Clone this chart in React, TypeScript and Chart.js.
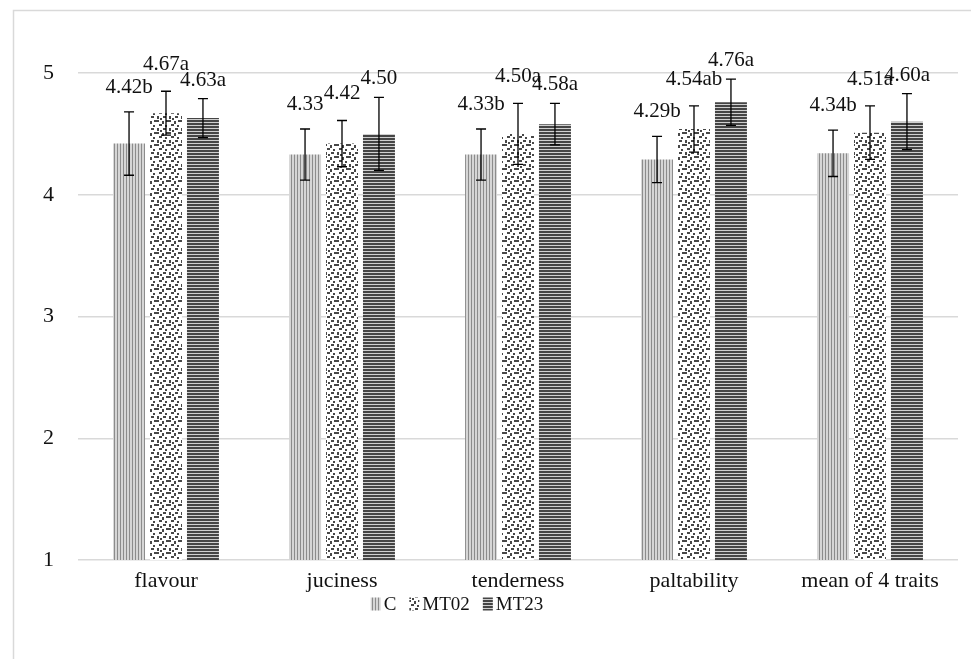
import React, { useEffect, useRef } from "react";
import { Chart, registerables } from "chart.js";

Chart.register(...registerables);

const categories = ["flavour", "juciness", "tenderness", "paltability", "mean of 4 traits"];
const seriesNames = ["C", "MT02", "MT23"];
const valuesC = [4.42, 4.33, 4.33, 4.29, 4.34];
const valuesMT02 = [4.67, 4.42, 4.5, 4.54, 4.51];
const valuesMT23 = [4.63, 4.5, 4.58, 4.76, 4.6];
const errorsC = [0.26, 0.21, 0.21, 0.19, 0.19];
const errorsMT02 = [0.18, 0.19, 0.25, 0.19, 0.22];
const errorsMT23 = [0.16, 0.3, 0.17, 0.19, 0.23];
const lettersC = ["b", "", "b", "b", "b"];
const lettersMT02 = ["a", "", "a", "ab", "a"];
const lettersMT23 = ["a", "", "a", "a", "a"];
const yTicks = [1, 2, 3, 4, 5];

const FONT = "'Liberation Serif', 'Times New Roman', serif";
const TEXT = "#111111";
const LABEL_GAP = [19, 21, 13];

function makePattern(kind: string): CanvasPattern | string {
  const c = document.createElement("canvas");
  const ctx = c.getContext("2d");
  if (!ctx) return "#888";
  if (kind === "vert") {
    c.width = 3; c.height = 1;
    ctx.fillStyle = "#d6d6d6"; ctx.fillRect(0, 0, 3, 1);
    ctx.fillStyle = "#8c8c8c"; ctx.fillRect(0, 0, 1, 1);
  } else if (kind === "horiz") {
    c.width = 1; c.height = 3;
    ctx.fillStyle = "#cfcfcf"; ctx.fillRect(0, 0, 1, 3);
    ctx.fillStyle = "#454545"; ctx.fillRect(0, 0, 1, 2);
  } else {
    c.width = 12; c.height = 12;
    ctx.fillStyle = "#ffffff"; ctx.fillRect(0, 0, 12, 12);
    ctx.fillStyle = "#474747";
    const sq = [
      [0, 0, 3, 2], [6, 1, 2, 3], [3, 4, 3, 2], [9, 5, 2, 2],
      [1, 8, 2, 3], [7, 8, 3, 2], [10, 0, 2, 2], [4, 10, 2, 2],
    ];
    for (const [x, y, w, h] of sq) ctx.fillRect(x, y, w, h);
  }
  const p = ctx.createPattern(c, "repeat");
  return p || "#888";
}

export default function App() {
  const ref = useRef<HTMLCanvasElement>(null);
  useEffect(() => {
    if (!ref.current) return;
    const errs = [errorsC, errorsMT02, errorsMT23];
    const letters = [lettersC, lettersMT02, lettersMT23];

    const framePlugin = {
      id: "frame",
      beforeDraw(chart: any) {
        const ctx = chart.ctx;
        ctx.save();
        ctx.fillStyle = "#ffffff";
        ctx.fillRect(0, 0, chart.width, chart.height);
        ctx.strokeStyle = "#d9d9d9";
        ctx.lineWidth = 1.5;
        ctx.strokeRect(13.5, 10.5, chart.width + 50, chart.height + 50);
        ctx.restore();
      },
    };

    const errorPlugin = {
      id: "errbars",
      afterDatasetsDraw(chart: any) {
        const ctx = chart.ctx;
        const ys = chart.scales.y;
        ctx.save();
        chart.data.datasets.forEach((ds: any, di: number) => {
          const meta = chart.getDatasetMeta(di);
          meta.data.forEach((bar: any, i: number) => {
            const v = ds.data[i];
            const e = errs[di][i];
            const top = ys.getPixelForValue(v + e);
            const bot = ys.getPixelForValue(v - e);
            const x = bar.x;
            ctx.strokeStyle = "#000000";
            ctx.lineWidth = 1.3;
            ctx.beginPath();
            ctx.moveTo(x, top); ctx.lineTo(x, bot);
            ctx.moveTo(x - 5, top); ctx.lineTo(x + 5, top);
            ctx.moveTo(x - 5, bot); ctx.lineTo(x + 5, bot);
            ctx.stroke();
            ctx.fillStyle = TEXT;
            ctx.font = `21px ${FONT}`;
            ctx.textAlign = "center";
            ctx.textBaseline = "alphabetic";
            ctx.fillText(v.toFixed(2) + letters[di][i], x, top - LABEL_GAP[di]);
          });
        });
        ctx.restore();
      },
    };

    const legendPlugin = {
      id: "customLegend",
      afterDraw(chart: any) {
        const ctx = chart.ctx;
        ctx.save();
        ctx.font = `19px ${FONT}`;
        const boxW = 10, boxH = 13, gapText = 3, gapItem = 13;
        const items = chart.data.datasets.map((ds: any) => ({
          label: ds.label,
          fill: ds.backgroundColor,
          w: ctx.measureText(ds.label).width,
        }));
        let total = 0;
        items.forEach((it: any, i: number) => {
          total += boxW + gapText + it.w + (i < items.length - 1 ? gapItem : 0);
        });
        const cx = 457;
        const cy = 604;
        let x = cx - total / 2;
        items.forEach((it: any) => {
          ctx.fillStyle = it.fill;
          ctx.fillRect(x, cy - boxH / 2, boxW, boxH);
          x += boxW + gapText;
          ctx.fillStyle = TEXT;
          ctx.textAlign = "left";
          ctx.textBaseline = "middle";
          ctx.fillText(it.label, x, cy + 1);
          x += it.w + gapItem;
        });
        ctx.restore();
      },
    };

    const chart = new Chart(ref.current, {
      type: "bar",
      data: {
        labels: categories,
        datasets: [
          { label: seriesNames[0], data: valuesC, backgroundColor: makePattern("vert") as any },
          { label: seriesNames[1], data: valuesMT02, backgroundColor: makePattern("dots") as any },
          { label: seriesNames[2], data: valuesMT23, backgroundColor: makePattern("horiz") as any },
        ],
      },
      options: {
        animation: false,
        responsive: true,
        maintainAspectRatio: false,
        layout: { padding: { left: 0, top: 73, right: 13, bottom: 63 } },
        datasets: { bar: { categoryPercentage: 0.63, barPercentage: 0.865 } },
        plugins: {
          tooltip: { enabled: false },
          legend: { display: false },
        },
        scales: {
          x: {
            grid: { display: false, drawTicks: false },
            border: { display: false },
            ticks: { font: { family: FONT, size: 22 }, color: TEXT, padding: 8, maxRotation: 0 },
            afterFit(scale: any) { scale.height = 36; },
          },
          y: {
            min: 1,
            max: 5,
            afterBuildTicks(scale: any) { scale.ticks = yTicks.map((v) => ({ value: v })); },
            grid: { color: "#d9d9d9", lineWidth: 1.5, drawTicks: false },
            border: { display: false },
            ticks: { font: { family: FONT, size: 22 }, color: TEXT, padding: 24 },
            afterFit(scale: any) { scale.width = 78; },
          },
        },
      },
      plugins: [framePlugin, errorPlugin, legendPlugin],
    });
    return () => chart.destroy();
  }, []);

  return (
    <div style={{ position: "fixed", left: 0, top: 0, width: 971, height: 659 }}>
      <canvas ref={ref} />
    </div>
  );
}
